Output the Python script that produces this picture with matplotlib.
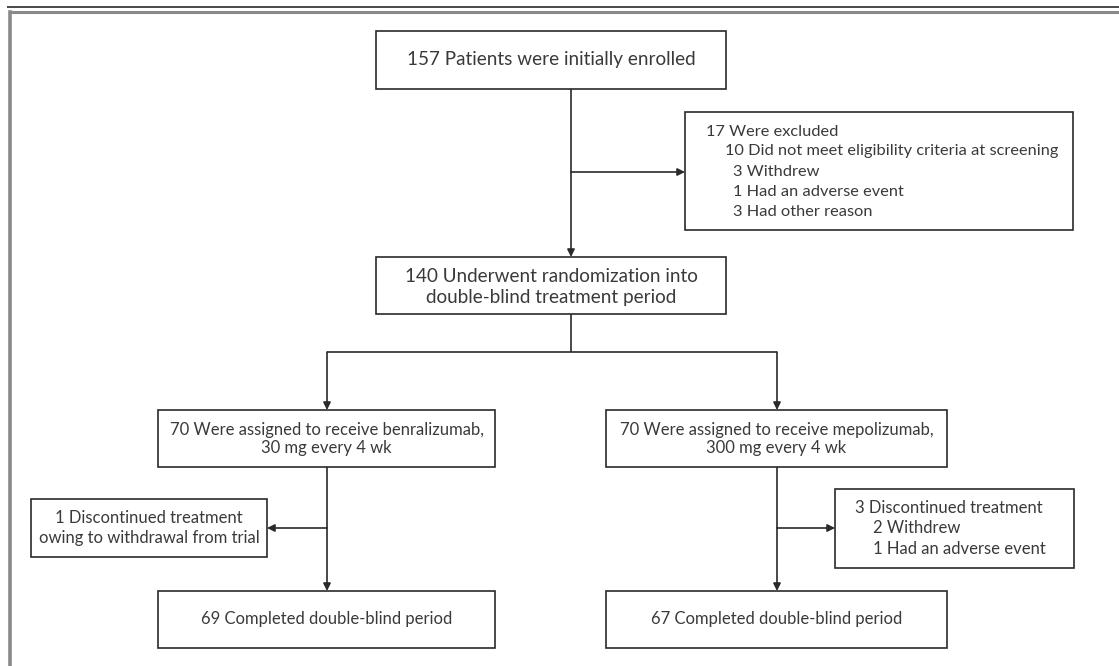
"""CONSORT-style flow of patients through the benralizumab vs mepolizumab trial."""

import matplotlib
matplotlib.use("Agg")
import matplotlib.pyplot as plt
from matplotlib.patches import Rectangle

# --- chart content -------------------------------------------------------
enrolled_text = ["157 Patients were initially enrolled"]
excluded_text = [
    "17 Were excluded",
    "10 Did not meet eligibility criteria at screening",
    "3 Withdrew",
    "1 Had an adverse event",
    "3 Had other reason",
]
randomized_text = ["140 Underwent randomization into", "double-blind treatment period"]
arm_text = [
    ["70 Were assigned to receive benralizumab,", "30 mg every 4 wk"],
    ["70 Were assigned to receive mepolizumab,", "300 mg every 4 wk"],
]
discontinued_text = [
    ["1 Discontinued treatment", "owing to withdrawal from trial"],
    ["3 Discontinued treatment", "2 Withdrew", "1 Had an adverse event"],
]
completed_text = ["69 Completed double-blind period", "67 Completed double-blind period"]

# --- style ---------------------------------------------------------------
FONT = "Lato"
FS = 12
FS_TOP = 13.6  # the two top boxes are set a bit larger in the original
TXT = "#3a3a3a"
EDGE = "#2a2a2a"
LW = 1.2

fig = plt.figure(figsize=(11.19, 6.66), dpi=100)
ax = fig.add_axes([0, 0, 1, 1])
ax.set_xlim(0, 1119)
ax.set_ylim(666, 0)
ax.axis("off")


def box(x0, y0, x1, y1):
    ax.add_patch(Rectangle((x0, y0), x1 - x0, y1 - y0, fill=False,
                           edgecolor=EDGE, linewidth=LW, zorder=2))


def centered(lines, cx, ys, fs=FS):
    for line, y in zip(lines, ys):
        ax.text(cx, y, line, ha="center", va="center", fontsize=fs,
                family=FONT, color=TXT)


def left(lines, xs, ys, fs=FS):
    for line, x, y in zip(lines, xs, ys):
        ax.text(x, y, line, ha="left", va="center", fontsize=fs,
                family=FONT, color=TXT)


def line(xs, ys):
    ax.plot(xs, ys, color=EDGE, lw=LW, solid_capstyle="butt", zorder=1)


def arrow(x0, y0, x1, y1):
    ax.annotate("", xy=(x1, y1), xytext=(x0, y0),
                arrowprops=dict(arrowstyle="-|>", color=EDGE, lw=LW,
                                mutation_scale=11, shrinkA=0, shrinkB=0))


# outer frame
line([7, 1119], [7, 7])
ax.plot([10, 1119], [12, 12], color="#8a8a8a", lw=2.2)
ax.plot([10, 10], [12, 666], color="#8a8a8a", lw=2.6)

# enrolled
box(376, 31, 726, 89)
centered(enrolled_text, 551, [60], fs=FS_TOP)

# excluded
box(685, 112, 1073, 230)
left(excluded_text, [706, 725, 733, 733, 733], [132, 151, 172, 192, 212], fs=11.8)
line([571, 571], [89, 172])
arrow(571, 172, 685, 172)
arrow(571, 172, 571, 257)

# randomized
box(376, 257, 726, 314)
centered(randomized_text, 551, [277, 297], fs=FS_TOP)

# split into arms
line([571, 571], [314, 352])
line([327, 777], [352, 352])
arm_cx = [327, 777]
arm_x = [(158, 495), (606, 947)]
for cx, (x0, x1), txt in zip(arm_cx, arm_x, arm_text):
    arrow(cx, 352, cx, 410)
    box(x0, 410, x1, 467)
    centered(txt, (x0 + x1) / 2, [430, 448])

# discontinued
box(31, 499, 267, 557)
centered(discontinued_text[0], 149, [518, 538])
arrow(327, 528, 267, 528)

box(835, 489, 1074, 568)
left(discontinued_text[1], [855, 873, 873], [508, 528, 549])
arrow(777, 528, 835, 528)

# completed
for cx, (x0, x1), txt in zip(arm_cx, arm_x, completed_text):
    line([cx, cx], [467, 528])
    arrow(cx, 528, cx, 591)
    box(x0, 591, x1, 648)
    centered([txt], (x0 + x1) / 2, [619])

fig.savefig("out.png", dpi=100)
